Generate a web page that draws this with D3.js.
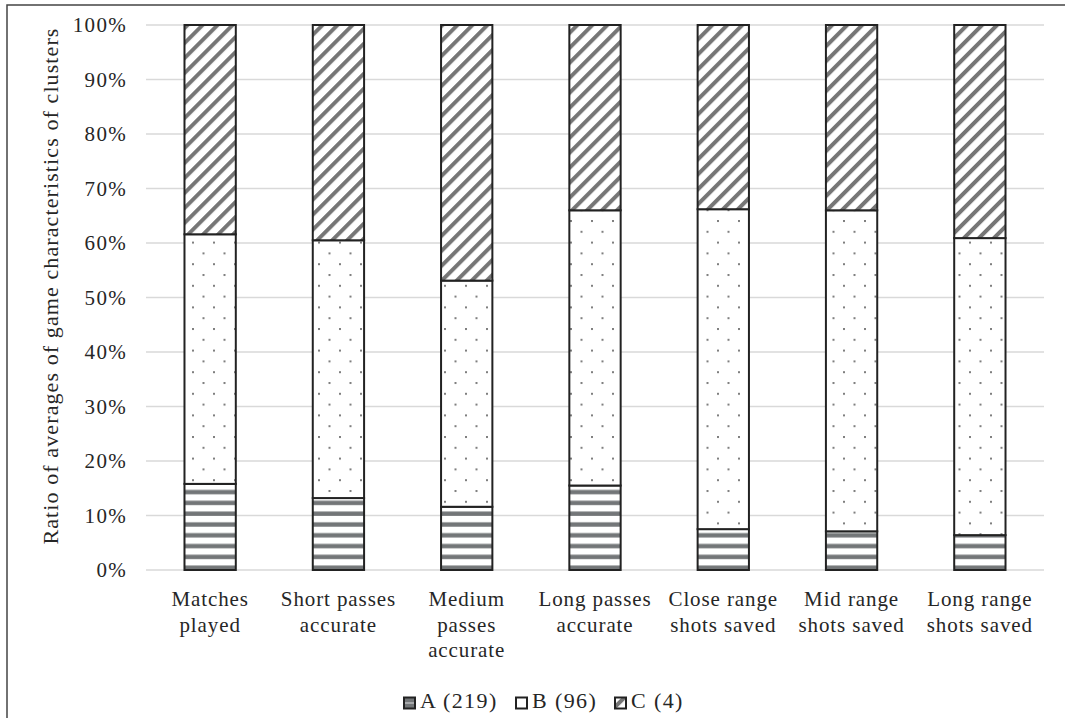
<!DOCTYPE html>
<html>
<head>
<meta charset="utf-8">
<script src="https://cdn.jsdelivr.net/npm/d3@7"></script>
<style>
  html, body { margin: 0; padding: 0; background: #fff; }
</style>
</head>
<body>
<svg id="chart" width="1065" height="718"></svg>
<script>
// Category labels (line breaks as drawn under each bar)
const categories = [
  "Matches\nplayed",
  "Short passes\naccurate",
  "Medium\npasses\naccurate",
  "Long passes\naccurate",
  "Close range\nshots saved",
  "Mid range\nshots saved",
  "Long range\nshots saved"
];
// Share of each cluster per characteristic (%)
const clusterA = [15.8, 13.2, 11.6, 15.5, 7.5, 7.1, 6.4];
const clusterB = [45.8, 47.3, 41.5, 50.5, 58.7, 58.9, 54.5];
const clusterC = [38.4, 39.5, 46.9, 34.0, 33.8, 34.0, 39.1];
const seriesNames = ["A (219)", "B (96)", "C (4)"];
const yTicks = [0, 10, 20, 30, 40, 50, 60, 70, 80, 90, 100];

const FONT = "Liberation Serif";
const INK = "#262626";
const svg = d3.select("#chart");
const W = 1065, H = 718;
const margin = { left: 146, right: 21, top: 25, bottom: 148 };

// Fill patterns
const defs = svg.append("defs");
const pA = defs.append("pattern").attr("id", "patA")
  .attr("patternUnits", "userSpaceOnUse").attr("width", 10).attr("height", 10.8)
  .attr("y", 570 - 10.8 * 51);
pA.append("rect").attr("width", 10).attr("height", 10.8).attr("fill", "#fff");
pA.append("rect").attr("y", 6.3).attr("width", 10).attr("height", 4.4).attr("fill", "#737678");

const pB = defs.append("pattern").attr("id", "patB")
  .attr("patternUnits", "userSpaceOnUse").attr("width", 21).attr("height", 21.6)
  .attr("x", 3).attr("y", 4);
pB.append("rect").attr("width", 21).attr("height", 21.6).attr("fill", "#fff");
pB.append("rect").attr("x", 0).attr("y", 0).attr("width", 2).attr("height", 2).attr("fill", "#7f7f7f");
pB.append("rect").attr("x", 10.5).attr("y", 10.8).attr("width", 2).attr("height", 2).attr("fill", "#7f7f7f");

const pC = defs.append("pattern").attr("id", "patC")
  .attr("patternUnits", "userSpaceOnUse").attr("width", 10.6).attr("height", 10.6)
  .attr("patternTransform", "rotate(45)");
pC.append("rect").attr("width", 10.6).attr("height", 10.6).attr("fill", "#fff");
pC.append("rect").attr("x", 0).attr("width", 4).attr("height", 10.6).attr("fill", "#767676");

const fills = ["url(#patA)", "url(#patB)", "url(#patC)"];

// Outer frame
svg.append("rect").attr("x", 7).attr("y", 5).attr("width", W + 20).attr("height", H + 20)
  .attr("fill", "none").attr("stroke", "#444").attr("stroke-width", 1.5);

const x = d3.scaleBand().domain(categories)
  .range([margin.left, W - margin.right]).paddingInner(0.6).paddingOuter(0.3);
const y = d3.scaleLinear().domain([0, 100]).range([H - margin.bottom, margin.top]);

// Gridlines
svg.append("g").selectAll("line").data(yTicks).join("line")
  .attr("x1", margin.left).attr("x2", W - margin.right)
  .attr("y1", d => y(d)).attr("y2", d => y(d))
  .attr("stroke", "#d9d9d9").attr("stroke-width", 1.5);

// Y axis tick labels
const yAxis = d3.axisLeft(y).tickValues(yTicks).tickFormat(d => d + "%").tickSize(0).tickPadding(19);
const gy = svg.append("g").attr("transform", `translate(${margin.left},0)`).call(yAxis);
gy.select(".domain").remove();
gy.selectAll("text")
  .style("font-family", FONT).style("font-size", "21px").style("letter-spacing", "1.3px")
  .attr("fill", INK);

// Stacked bars
const rows = categories.map((c, i) => ({ cat: c, A: clusterA[i], B: clusterB[i], C: clusterC[i] }));
const stacked = d3.stack().keys(["A", "B", "C"])(rows);
stacked.forEach((layer, k) => {
  svg.append("g").selectAll("rect").data(layer).join("rect")
    .attr("x", d => x(d.data.cat))
    .attr("width", x.bandwidth())
    .attr("y", d => y(d[1]))
    .attr("height", d => y(d[0]) - y(d[1]))
    .attr("fill", fills[k])
    .attr("stroke", "#222").attr("stroke-width", 2);
});

// X axis category labels
const gx = svg.append("g");
categories.forEach(c => {
  const cx = x(c) + x.bandwidth() / 2;
  const t = gx.append("text").attr("text-anchor", "middle").attr("x", cx).attr("y", 606)
    .style("font-family", FONT).style("font-size", "21px").style("letter-spacing", "0.9px")
    .attr("fill", INK);
  c.split("\n").forEach((ln, j) => {
    t.append("tspan").attr("x", cx).attr("dy", j === 0 ? 0 : 25.5).text(ln);
  });
});

// Y axis title
svg.append("text").attr("transform", "translate(58,286) rotate(-90)")
  .attr("text-anchor", "middle")
  .style("font-family", FONT).style("font-size", "22px").style("letter-spacing", "1.1px")
  .attr("fill", INK)
  .text("Ratio of averages of game characteristics of clusters");

// Legend
const legendX = [403, 515, 614];
const legendFill = ["#737678", "#fff", "url(#patC)"];
const lg = svg.append("g");
seriesNames.forEach((name, k) => {
  lg.append("rect").attr("x", legendX[k] + 1).attr("y", 697.5).attr("width", 11).attr("height", 11)
    .attr("fill", legendFill[k])
    .attr("stroke", "#222").attr("stroke-width", 2);
  if (k === 0) {
    lg.append("line").attr("x1", legendX[k] + 2).attr("x2", legendX[k] + 11)
      .attr("y1", 703).attr("y2", 703).attr("stroke", "#a8aaac").attr("stroke-width", 2);
  }
  lg.append("text").attr("x", legendX[k] + 17).attr("y", 708)
    .style("font-family", FONT).style("font-size", "22px").style("letter-spacing", "1.4px")
    .attr("fill", INK).text(name);
});
</script>
</body>
</html>
